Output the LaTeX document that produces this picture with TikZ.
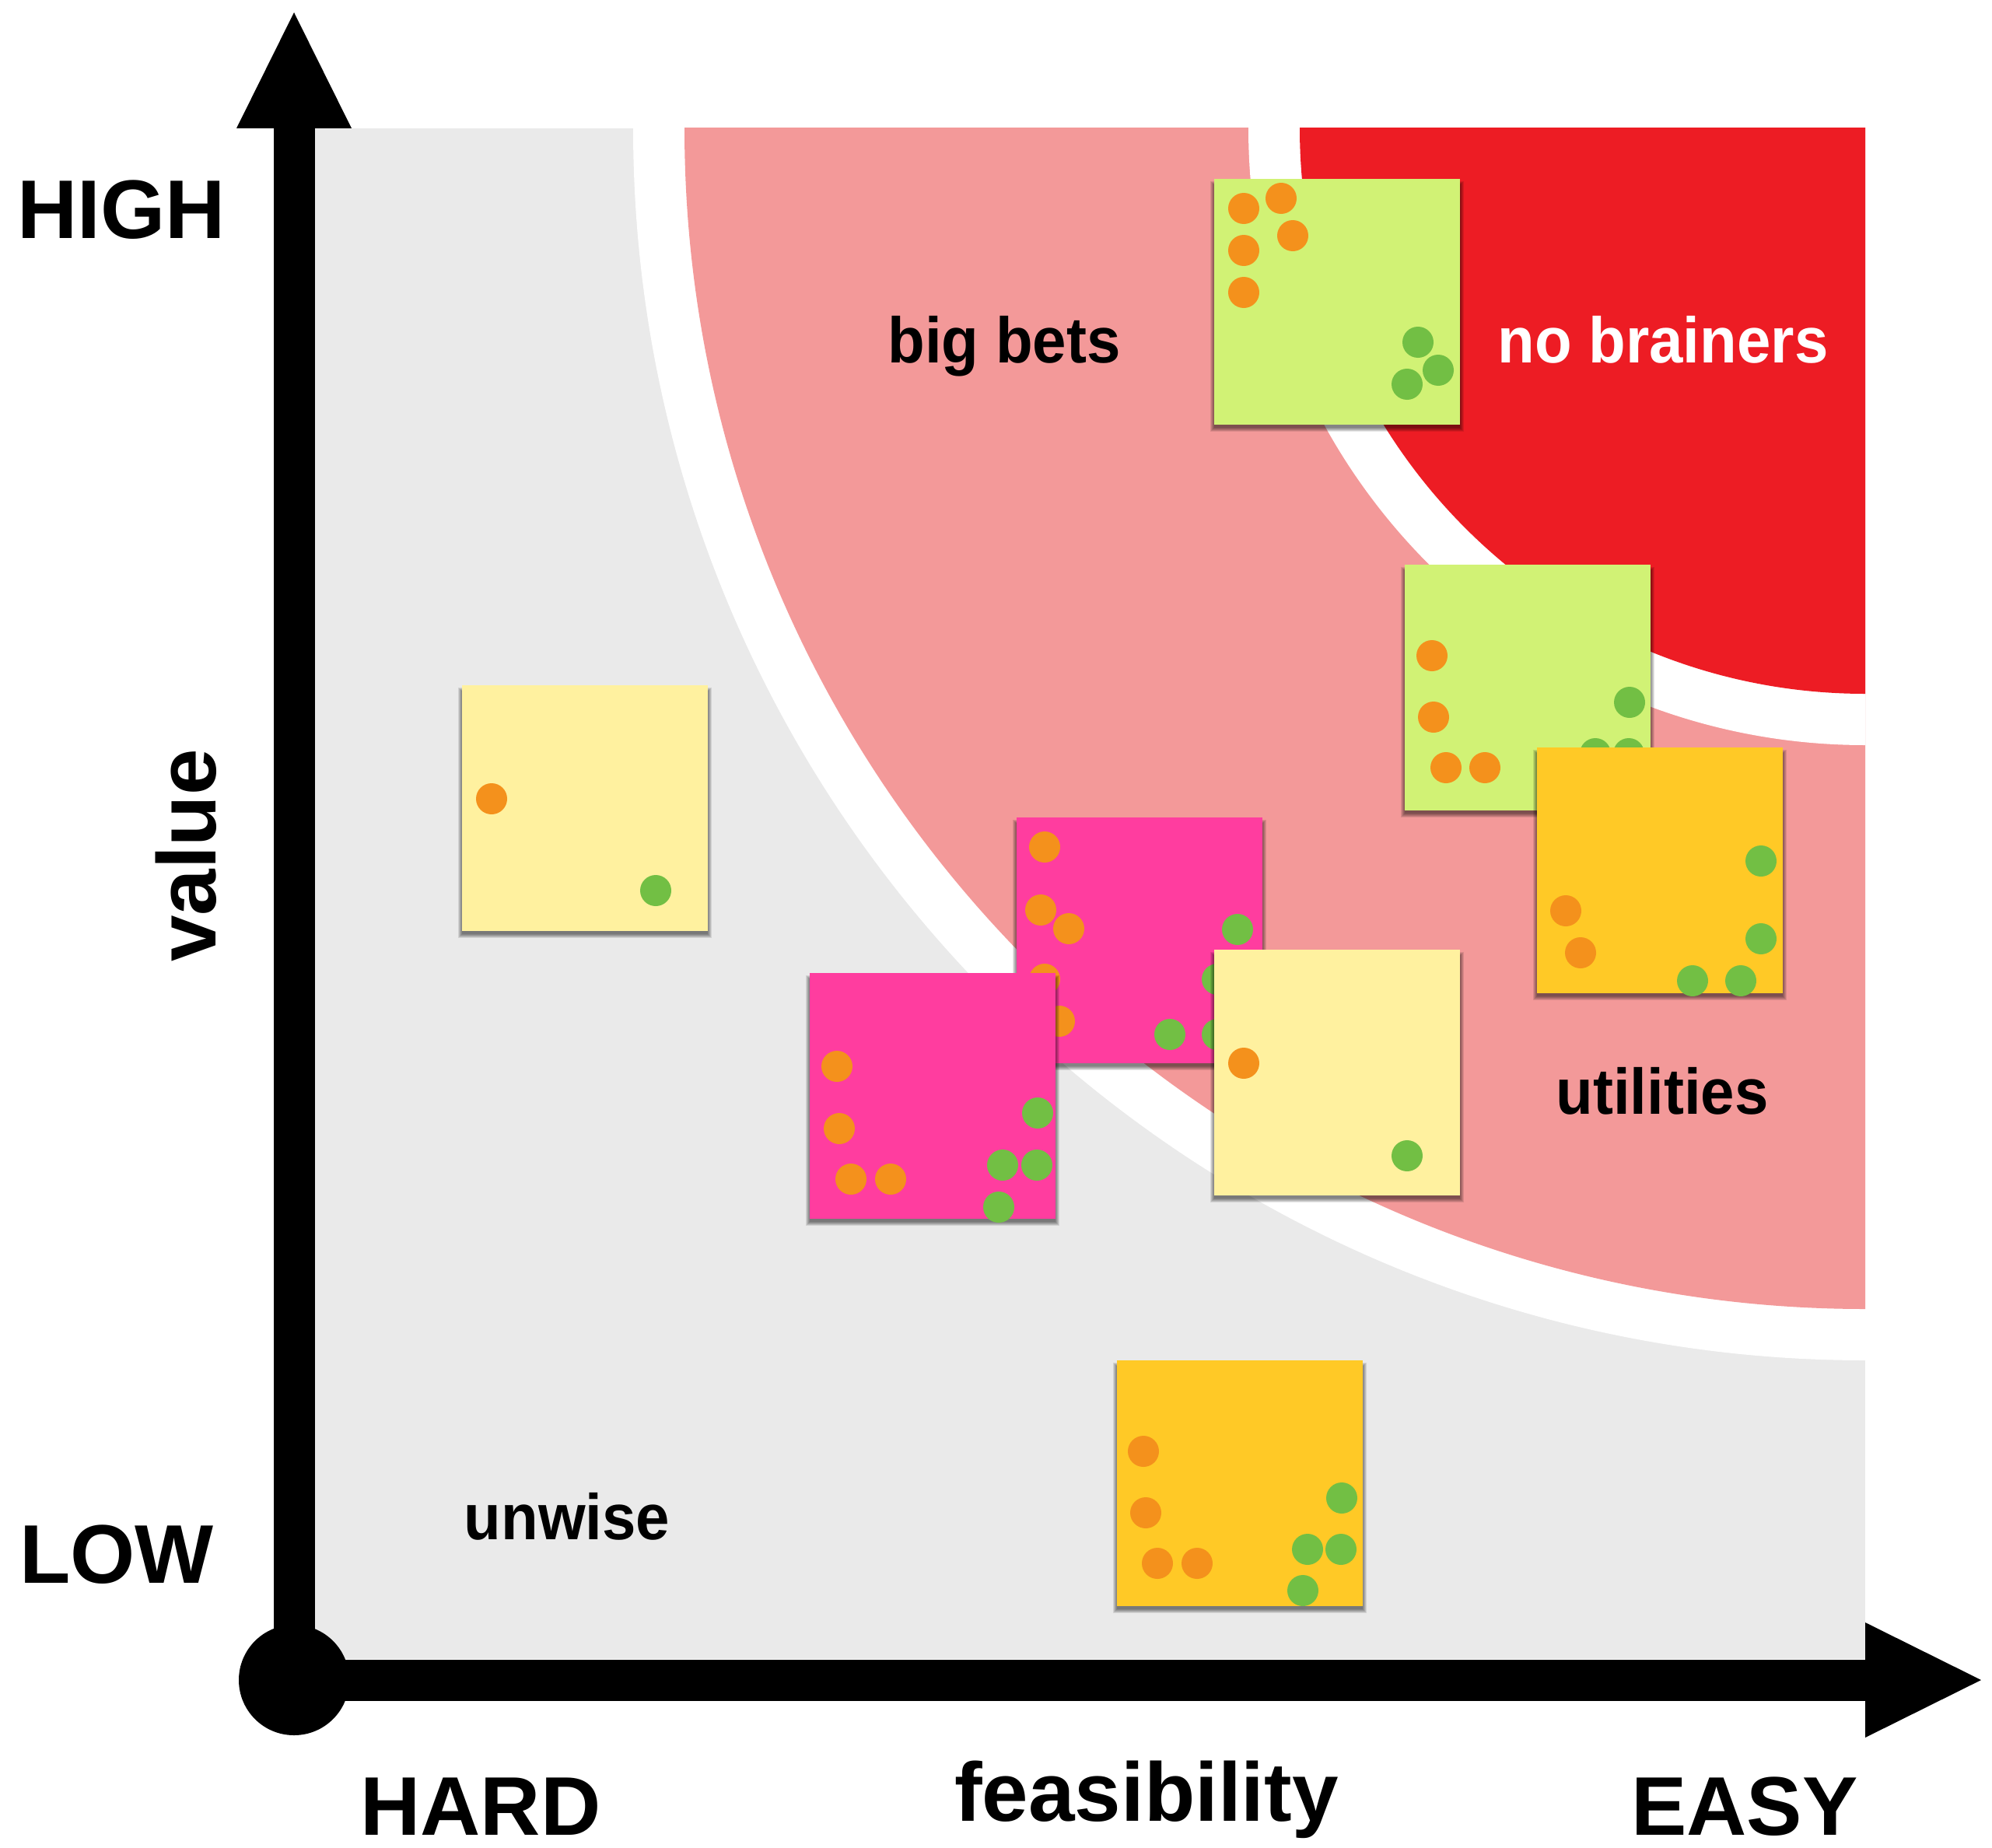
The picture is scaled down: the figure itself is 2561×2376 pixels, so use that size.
\documentclass[tikz,border=0pt]{standalone}
\usepackage{fontspec}
\setmainfont{Liberation Sans}
\newfontfamily\zonefont{Liberation Sans}[FakeStretch=0.94]
\usetikzlibrary{arrows.meta}

\definecolor{bggray}{HTML}{EAEAEA}
\definecolor{zonepink}{HTML}{F39999}
\definecolor{zonered}{HTML}{ED1C24}
\definecolor{notelime}{HTML}{D1F275}
\definecolor{notepale}{HTML}{FFF19F}
\definecolor{notemagenta}{HTML}{FF3D9F}
\definecolor{notegold}{HTML}{FFC926}
\definecolor{dotorange}{HTML}{F4911C}
\definecolor{dotgreen}{HTML}{72BF44}

% sticky note with a soft shadow falling downwards: name, colour, left, top
\newcommand\stickynote[4]{%
  \foreach \k in {1,...,6}{%
    \fill[black,opacity=0.1] (#3-\k+1,-#4-9+\k) rectangle (#3+316+\k-1,-#4-319-\k);}
  \node[notebox,fill=#2] (#1) at (#3,-#4) {};}
% voting dots: style, list of centres
\newcommand\placedots[2]{\foreach \p in {#2} \fill[#1] \p circle (20);}

\begin{document}
\begin{tikzpicture}[x=1pt,y=1pt,
  axisline/.style={line width=53pt,-{Triangle[length=149pt,width=148pt,line width=0pt]}},
  notebox/.style={rectangle,minimum width=316pt,minimum height=316pt,inner sep=0pt,outer sep=0pt,anchor=north west},
  axislabel/.style={font=\fontsize{107}{107}\selectfont\bfseries,text=black,inner sep=0pt,anchor=base},
  zonelabel/.style={font=\zonefont\fontsize{83}{83}\selectfont\bfseries,inner sep=0pt,anchor=base},
  odot/.style={fill=dotorange},
  gdot/.style={fill=dotgreen}]

\useasboundingbox (0,0) rectangle (2561,-2376);

% plotting field
\fill[bggray] (404,-165) rectangle (2398,-2133);
\begin{scope}
  \clip (404,-165) rectangle (2398,-2133);
  \coordinate (corner) at (2398,-165);
  \fill[white] (corner) circle (1584);
  \fill[zonepink] (corner) circle (1518);
  \fill[white] (corner) circle (793);
  \fill[zonered] (corner) circle (727);
\end{scope}

% axes
\coordinate (O) at (378,-2160);
\coordinate (Ytop) at (378,-16);
\coordinate (Xend) at (2547,-2160);
\draw[axisline] (O) -- (Ytop);
\draw[axisline] (O) -- (Xend);
\fill (O) circle (71);

% axis labels
\node[axislabel] (high) at (156,-306) {HIGH};
\node[axislabel] (low) at (150,-2035) {LOW};
\node[axislabel,rotate=90] (value) at (277,-1100) {value};
\node[axislabel] (hard) at (618,-2359) {HARD};
\node[axislabel] (feas) at (1474,-2341) {feasibility};
\node[axislabel] (easy) at (2243,-2359) {EASY};

% zone labels
\node[zonelabel,text=black] (bigbets) at (1291,-466) {big bets};
\node[zonelabel,text=white] (nobrainers) at (2138,-466) {no brainers};
\node[zonelabel,text=black] (utilities) at (2137,-1432) {utilities};
\node[zonelabel,text=black] (unwise) at (729,-1979) {unwise};

% sticky notes
\stickynote{nA}{notelime}{1561}{230}
\placedots{odot}{(1599,-268),(1647,-255),(1662,-303),(1599,-322),(1599,-376)}
\placedots{gdot}{(1823,-440),(1849,-476),(1809,-494)}

\stickynote{nD}{notepale}{594}{881}
\placedots{odot}{(632,-1027)}
\placedots{gdot}{(843,-1145)}

\stickynote{nB}{notelime}{1806}{726}
\placedots{odot}{(1841,-843),(1843,-922),(1859,-987),(1909,-987)}
\placedots{gdot}{(2095,-903),(2051,-969),(2094,-969)}

\stickynote{nC}{notegold}{1976}{961}
\placedots{odot}{(2013,-1171),(2032,-1225)}
\placedots{gdot}{(2264,-1107),(2264,-1207),(2176,-1261),(2238,-1261)}

\stickynote{nF}{notemagenta}{1307}{1051}
\placedots{odot}{(1343,-1089),(1338,-1170),(1374,-1194),(1343,-1259),(1362,-1313)}
\placedots{gdot}{(1591,-1195),(1565,-1259),(1504,-1330),(1565,-1330)}

\stickynote{nG}{notemagenta}{1041}{1251}
\placedots{odot}{(1076,-1371),(1079,-1451),(1094,-1516),(1145,-1516)}
\placedots{gdot}{(1334,-1431),(1289,-1498),(1333,-1498),(1284,-1552)}

\stickynote{nE}{notepale}{1561}{1221}
\placedots{odot}{(1599,-1367)}
\placedots{gdot}{(1809,-1486)}

\stickynote{nH}{notegold}{1436}{1749}
\placedots{odot}{(1470,-1866),(1473,-1945),(1488,-2010),(1539,-2010)}
\placedots{gdot}{(1725,-1926),(1681,-1992),(1724,-1992),(1675,-2045)}

\end{tikzpicture}
\end{document}
